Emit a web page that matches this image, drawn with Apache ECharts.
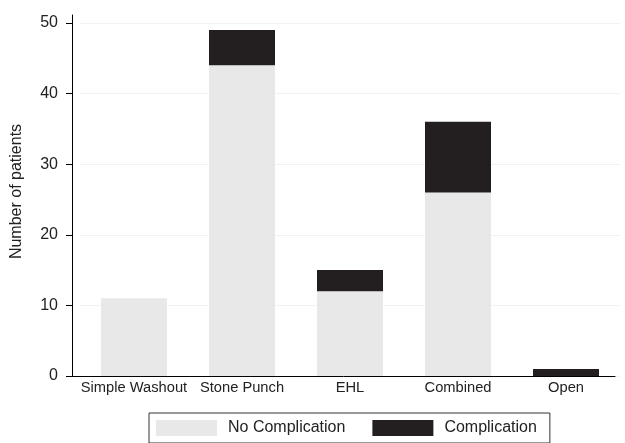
<!DOCTYPE html>
<html>
<head>
<meta charset="utf-8">
<script src="https://cdn.jsdelivr.net/npm/echarts@6/dist/echarts.min.js"></script>
<style>html,body{margin:0;padding:0;background:#fff;}#c{width:625px;height:443px;}</style>
</head>
<body>
<div id="c"></div>
<script>
var categories = ['Simple Washout', 'Stone Punch', 'EHL', 'Combined', 'Open'];
var noComplication = [11, 44, 12, 26, 0];
var complication = [0, 5, 3, 10, 1];
var yTicks = [0, 10, 20, 30, 40, 50];

var chart = echarts.init(document.getElementById('c'), null, {renderer: 'canvas'});
var font = 'Liberation Sans, Arial, sans-serif';
chart.setOption({
  animation: false,
  backgroundColor: '#ffffff',
  grid: [
    {left: 80, right: 5, top: 23, bottom: 67},
    {left: 72, right: 10, top: 15, bottom: 67}
  ],
  legend: {
    data: ['No Complication', 'Complication'],
    left: 149, top: 413,
    padding: [7, 13, 7, 7],
    itemWidth: 61, itemHeight: 16, itemGap: 27,
    icon: 'rect',
    borderColor: '#333', borderWidth: 1, borderRadius: 0,
    textStyle: {fontFamily: font, fontSize: 16, color: '#222', padding: [0, 0, 0, 6]}
  },
  xAxis: [
    {
      type: 'category', gridIndex: 0, data: categories,
      axisLine: {show: false}, axisTick: {show: false},
      axisLabel: {fontFamily: font, fontSize: 14.7, color: '#222', margin: 4, interval: 0}
    },
    {
      type: 'value', gridIndex: 1, min: 0, max: 1,
      axisLine: {show: true, lineStyle: {color: '#000', width: 1}},
      axisTick: {show: false}, axisLabel: {show: false}, splitLine: {show: false}
    }
  ],
  yAxis: [
    {
      type: 'value', gridIndex: 0, min: yTicks[0], max: yTicks[yTicks.length - 1], interval: 10,
      offset: 8,
      name: 'Number of patients', nameLocation: 'middle', nameGap: 47,
      nameTextStyle: {fontFamily: font, fontSize: 16, color: '#222', padding: [0, 0, 0, 16]},
      axisLine: {show: false},
      axisTick: {show: true, length: 6, lineStyle: {color: '#000'}},
      axisLabel: {fontFamily: font, fontSize: 16, color: '#222', margin: 14},
      splitLine: {show: true, lineStyle: {color: '#f2f2f2', width: 1}}
    },
    {
      type: 'value', gridIndex: 1, min: 0, max: 1,
      axisLine: {show: true, lineStyle: {color: '#000', width: 1}},
      axisTick: {show: false}, axisLabel: {show: false}, splitLine: {show: false}
    }
  ],
  series: [
    {
      name: 'No Complication', type: 'bar', stack: 'total',
      xAxisIndex: 0, yAxisIndex: 0, barWidth: 66,
      itemStyle: {color: '#e8e8e8'},
      data: noComplication
    },
    {
      name: 'Complication', type: 'bar', stack: 'total',
      xAxisIndex: 0, yAxisIndex: 0, barWidth: 66,
      itemStyle: {color: '#231f20'},
      data: complication
    }
  ]
});
</script>
</body>
</html>
